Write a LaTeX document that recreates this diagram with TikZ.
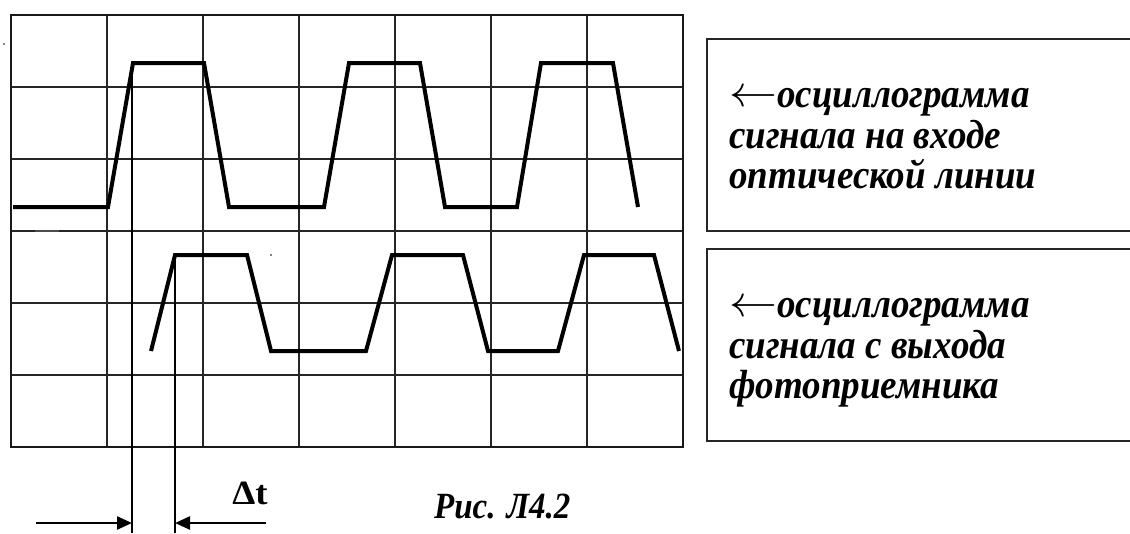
\documentclass[tikz,border=0pt]{standalone}
\usepackage{fontspec}
\usepackage{graphicx}
\setmainfont{Liberation Serif}
\usetikzlibrary{arrows.meta}
\newcommand{\larr}{\raisebox{1pt}{\scalebox{4.8}[4.4]{\fontsize{10pt}{12pt}\selectfont$\leftarrow$}}}
\newcommand{\tallish}[1]{\scalebox{1}[1.1]{#1}}
\tikzset{
  gridline/.style={line width=1.4pt, draw=black!85},
  frameline/.style={line width=2pt, draw=black!90},
  trace/.style={line width=4pt, line join=miter, line cap=butt},
  boxline/.style={line width=2.2pt, draw=black!85},
  marker/.style={line width=1.6pt},
  darr/.style={line width=2.4pt, -{Triangle[length=15pt,width=13pt]}},
  caption/.style={font=\fontsize{37pt}{41pt}\selectfont\bfseries\itshape, anchor=base west, inner sep=0pt},
  dtlabel/.style={font=\fontsize{34pt}{38pt}\selectfont\bfseries, anchor=base, inner sep=0pt},
  figlabel/.style={font=\fontsize{33pt}{36pt}\selectfont\bfseries\itshape, anchor=base west, inner sep=0pt}
}
\begin{document}
\begin{tikzpicture}[x=1pt,y=-1pt]
\useasboundingbox (0,0) rectangle (1130,533);
% grid
\foreach \gx in {107,203,299,395,491,587} \draw[gridline] (\gx,15) -- (\gx,447);
\foreach \gy in {87,159,231,303,375} \draw[gridline] (11,\gy) -- (683,\gy);
\draw[frameline] (11,15) rectangle (683,447);
% artefacts
\fill (4,44) circle (0.9);
\fill (271,255) circle (0.9);
\draw[line width=2.2pt, draw=black!70] (35,231) -- (59,231);
% marker lines
\coordinate (m1top) at (132,63);
\coordinate (m1bot) at (132,533);
\coordinate (m2top) at (175,255);
\coordinate (m2bot) at (175,533);
\draw[marker] (m1top) -- (m1bot);
\draw[marker] (m2top) -- (m2bot);
% input trace
\draw[trace] (13,207) -- (108,207) -- (133,63) -- (204,63) -- (229,207) -- (324,207)
  -- (349,63) -- (420,63) -- (445,207) -- (517,207) -- (541,63) -- (613,63) -- (638,207);
% output trace
\draw[trace] (151,351) -- (175,255) -- (247,255) -- (271,351) -- (366,351) -- (392,255)
  -- (463,255) -- (488,351) -- (558,351) -- (584,255) -- (654,255) -- (679,351);
% delta t arrows
\coordinate (a1s) at (36,523);
\coordinate (a2s) at (266,523);
\draw[darr] (a1s) -- (m1top |- a1s);
\draw[darr] (a2s) -- (m2top |- a2s);
\node[dtlabel] (dt) at (250,504) {\scalebox{1.08}[1]{Δt}};
\node[figlabel] (fig) at (434,518) {\scalebox{1}[1.12]{Рис. Л4.2}};
% boxes
\draw[boxline] (1130,39) -- (707,39) -- (707,231) -- (1130,231);
\draw[boxline] (1130,249) -- (707,249) -- (707,441) -- (1130,441);
\node[caption] (c1a) at (729,107) {\larr\tallish{осциллограмма}};
\node[caption] (c1b) at (729,148) {\tallish{сигнала на входе}};
\node[caption] (c1c) at (729,188) {\tallish{оптической линии}};
\node[caption] (c2a) at (729,317) {\larr\tallish{осциллограмма}};
\node[caption] (c2b) at (729,358) {\tallish{сигнала с выхода}};
\node[caption] (c2c) at (729,398) {\tallish{фотоприемника}};
\end{tikzpicture}
\end{document}
